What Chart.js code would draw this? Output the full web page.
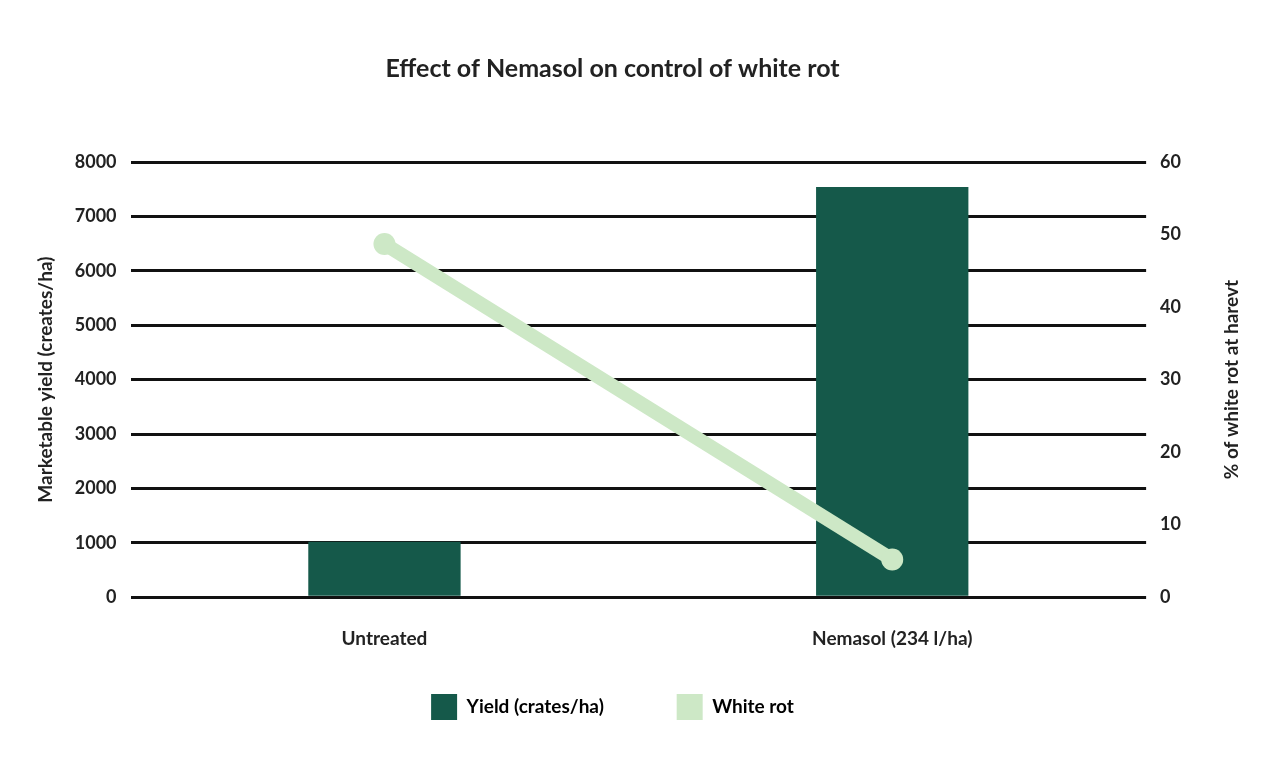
<!DOCTYPE html>
<html><head><meta charset="utf-8">
<script src="https://cdn.jsdelivr.net/npm/chart.js@4"></script>
<style>html,body{margin:0;background:#fff}#w{width:1280px;height:778px}</style>
</head><body><div id="w"><canvas id="c"></canvas></div>
<script>
const categories=["Untreated","Nemasol (234 l/ha)"];
const yieldValues=[1020,7540];
const whiteRot=[48.7,5.2];
const leftTicks=[0,1000,2000,3000,4000,5000,6000,7000,8000];
Chart.defaults.font.family="Lato";
Chart.defaults.color="#222";
const rightTitle={id:'rt',afterDraw(c){const x=c.ctx,s=c.scales.y1;x.save();x.translate(1232,(s.top+s.bottom)/2);x.rotate(-Math.PI/2);x.font='bold 19px Lato';x.fillStyle='#222';x.textAlign='center';x.textBaseline='middle';x.fillText('% of white rot at harevt',0,0);x.restore();}};
new Chart(document.getElementById('c'),{
 plugins:[rightTitle],
 data:{labels:categories,datasets:[
  {type:'line',label:'White rot',data:whiteRot,yAxisID:'y1',borderColor:'#cde8c6',backgroundColor:'#cde8c6',borderWidth:14,pointRadius:11,pointBackgroundColor:'#cde8c6',pointBorderWidth:0,order:0},
  {type:'bar',label:'Yield (crates/ha)',data:yieldValues,yAxisID:'y',backgroundColor:'#15594a',barPercentage:0.3,categoryPercentage:1,order:1}
 ]},
 options:{responsive:true,maintainAspectRatio:false,animation:false,
  layout:{padding:{left:30,right:85,top:24,bottom:48}},
  plugins:{title:{display:true,text:'Effect of Nemasol on control of white rot',font:{size:25,weight:'bold'},color:'#222',padding:{top:30,bottom:78}},
   legend:{position:'bottom',labels:{boxWidth:26,boxHeight:26,padding:22,font:{size:19,weight:'bold'},color:'#222',
    generateLabels:c=>[{text:'Yield (crates/ha)           ',fillStyle:'#15594a',strokeStyle:'#15594a',lineWidth:0,datasetIndex:1},{text:'White rot',fillStyle:'#cde8c6',strokeStyle:'#cde8c6',lineWidth:0,datasetIndex:0}]}},
   tooltip:{enabled:false}},
  scales:{
   x:{grid:{display:false},border:{display:false},ticks:{font:{size:19,weight:'bold'},color:'#222',padding:22}},
   y:{min:0,max:8000,afterBuildTicks:a=>{a.ticks=leftTicks.map(v=>({value:v}))},grid:{color:'#111',lineWidth:3,drawTicks:false},border:{display:false},
      ticks:{font:{size:18,weight:'bold'},color:'#222',padding:14,callback:v=>String(v)},title:{display:true,text:'Marketable yield (creates/ha)',font:{size:19,weight:'bold'},color:'#222'}},
   y1:{position:'right',min:0,max:60,ticks:{stepSize:10,font:{size:18,weight:'bold'},color:'#222',padding:14},grid:{display:false,drawTicks:false},border:{display:false}}
  }}
});
</script></body></html>
